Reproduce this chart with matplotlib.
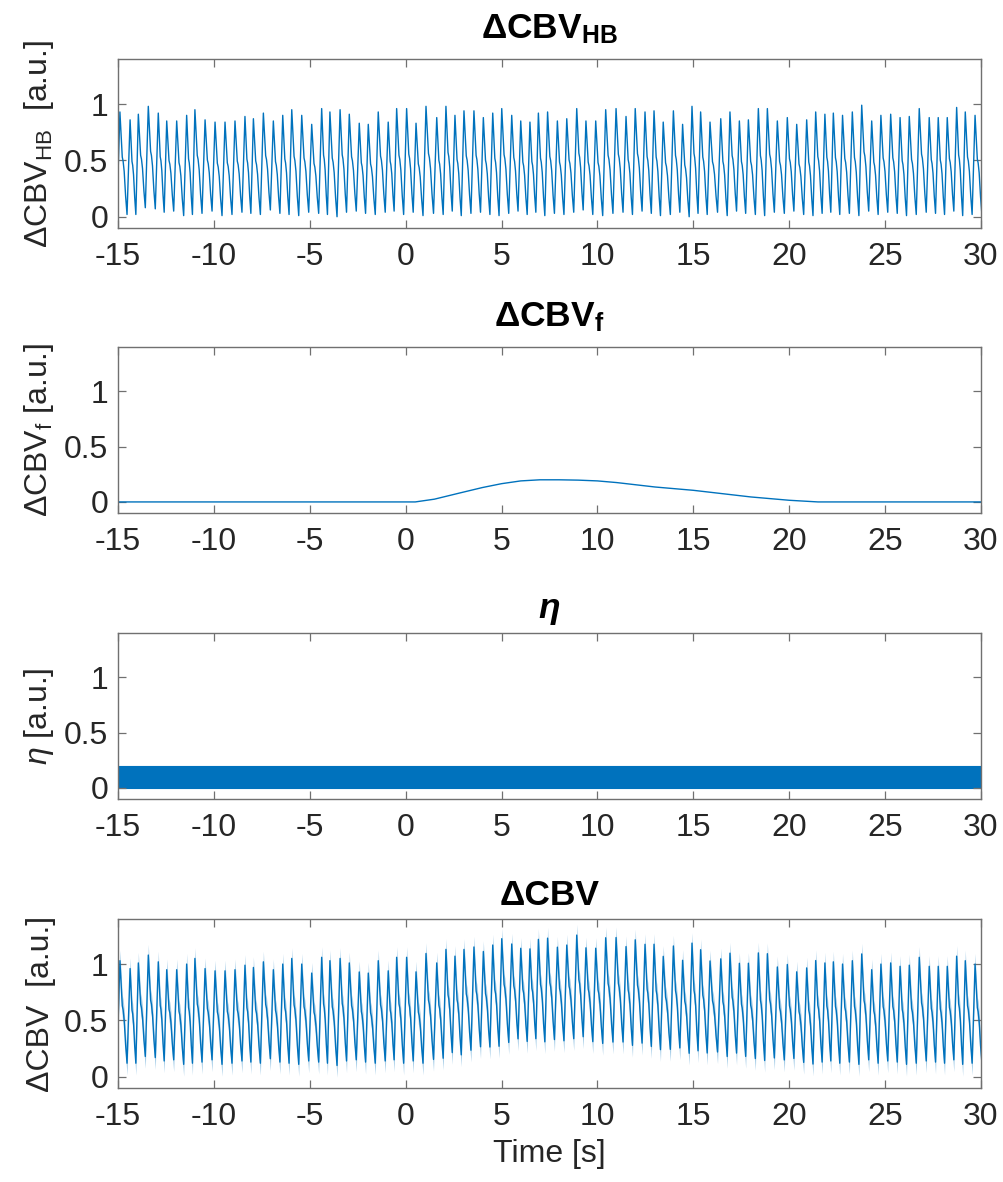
import numpy as np
import matplotlib
matplotlib.use("Agg")
import matplotlib.pyplot as plt

plt.rcParams["font.family"] = ["Liberation Sans", "DejaVu Sans"]
plt.rcParams["mathtext.fontset"] = "custom"
plt.rcParams["mathtext.rm"] = "Liberation Sans"
plt.rcParams["mathtext.bf"] = "Liberation Sans:bold"
plt.rcParams["mathtext.it"] = "Liberation Sans:italic"

LINE = "#0072BD"
TXT = "#262626"
SPINE = "#707070"

# ---- heartbeat component: time of each systolic peak [s], peak and preceding trough values
beat_peak_t = [-14.90, -14.37, -13.94, -13.42, -12.90, -12.46, -11.94, -11.42, -10.99, -10.46,
               -9.94, -9.42, -8.90, -8.38, -7.94, -7.42, -6.90, -6.41, -5.94, -5.42,
               -4.90, -4.38, -3.95, -3.42, -2.94, -2.42, -1.95, -1.43, -0.91, -0.47,
               0.05, 0.54, 1.06, 1.62, 2.10, 2.57, 3.04, 3.56, 4.05, 4.54,
               5.01, 5.53, 6.00, 6.48, 6.92, 7.40, 7.91, 8.40, 8.92, 9.40,
               9.91, 10.43, 10.97, 11.49, 11.97, 12.48, 12.95, 13.43, 13.96, 14.44,
               14.93, 15.38, 15.87, 16.43, 16.91, 17.40, 17.87, 18.39, 18.86, 19.38,
               19.90, 20.39, 20.91, 21.38, 21.86, 22.30, 22.78, 23.29, 23.78, 24.30,
               24.78, 25.29, 25.78, 26.26, 26.78, 27.30, 27.77, 28.24, 28.73, 29.18,
               29.69]
beat_peak = [0.93, 0.86, 0.91, 0.98, 0.92, 0.85, 0.85, 0.90, 0.95, 0.86,
             0.84, 0.84, 0.85, 0.89, 0.87, 0.92, 0.85, 0.90, 0.95, 0.90,
             0.82, 0.96, 0.93, 0.95, 0.91, 0.83, 0.82, 0.93, 0.84, 0.96,
             0.96, 0.83, 0.98, 0.88, 0.98, 0.90, 0.94, 0.94, 0.88, 0.92,
             0.96, 0.90, 0.85, 0.84, 0.92, 0.93, 0.85, 0.87, 0.96, 0.85,
             0.85, 0.95, 0.96, 0.89, 0.96, 0.93, 0.94, 0.84, 0.94, 0.82,
             0.98, 0.93, 0.84, 0.87, 0.93, 0.85, 0.86, 0.96, 0.96, 0.85,
             0.88, 0.82, 0.86, 0.93, 0.91, 0.92, 0.90, 0.93, 0.99, 0.85,
             0.90, 0.91, 0.88, 0.89, 0.96, 0.88, 0.88, 0.88, 0.97, 0.93,
             0.90]
beat_trough = [0.03, 0.02, 0.02, 0.08, 0.07, 0.04, 0.05, 0.01, 0.02, 0.03,
               0.05, 0.01, 0.02, 0.04, 0.03, 0.02, 0.06, 0.03, 0.02, 0.01,
               0.04, 0.03, 0.02, 0.00, 0.04, 0.05, 0.03, 0.02, 0.04, 0.05,
               0.02, 0.04, 0.01, 0.03, 0.02, 0.05, 0.01, 0.03, 0.04, 0.02,
               0.01, 0.03, 0.05, 0.02, 0.04, 0.01, 0.03, 0.02, 0.04, 0.06,
               0.02, 0.01, 0.03, 0.04, 0.02, 0.05, 0.03, 0.01, 0.02, 0.04,
               0.00, 0.03, 0.02, 0.04, 0.01, 0.05, 0.03, 0.02, 0.01, 0.04,
               0.03, 0.05, 0.02, 0.01, 0.03, 0.04, 0.02, 0.03, 0.01, 0.05,
               0.02, 0.04, 0.03, 0.01, 0.02, 0.04, 0.03, 0.02, 0.05, 0.01,
               0.02]
# pulse shape: share of the beat spent rising, and the falling limb (fraction of fall time, level)
rise_share = 0.3
fall_pos = [0.18, 0.33, 0.45, 0.60, 0.80]
fall_level = [0.76, 0.56, 0.52, 0.42, 0.18]

# ---- functional (slow) component
f_t = [-15.0, 0.5, 1.5, 2.8, 4.0, 5.0, 6.0, 7.0, 8.0, 9.0, 10.0, 11.0, 12.0, 13.0,
       14.0, 15.0, 16.0, 17.0, 18.0, 19.0, 20.0, 21.0, 21.5, 30.0]
f_v = [0.0, 0.0, 0.025, 0.08, 0.13, 0.165, 0.19, 0.20, 0.20, 0.197, 0.19, 0.175, 0.155, 0.135,
       0.12, 0.105, 0.085, 0.065, 0.045, 0.03, 0.015, 0.005, 0.0, 0.0]

# ---- noise band (lower / upper extent)
eta_t = [-15, 30]
eta_lo = [-0.005, -0.005]
eta_hi = [0.195, 0.195]
eta_mid = 0.1

x_ticks = [-15, -10, -5, 0, 5, 10, 15, 20, 25, 30]
y_ticks = [0, 0.5, 1]
y_ticklabels = ["0", "0.5", "1"]


def heartbeat_vertices():
    tp = np.asarray(beat_peak_t)
    pk = np.asarray(beat_peak)
    tr = np.asarray(beat_trough)
    n = len(tp)
    periods = np.diff(tp)
    periods = np.append(periods, periods[-1])
    trough_t = tp - rise_share * np.append(periods[0], periods[:-1])
    ts, vs = [], []
    for i in range(n):
        ts.append(trough_t[i]); vs.append(tr[i])
        ts.append(tp[i]); vs.append(pk[i])
        nxt_t = trough_t[i + 1] if i + 1 < n else tp[i] + (1 - rise_share) * periods[i]
        nxt_v = tr[i + 1] if i + 1 < n else tr[i]
        for p, lv in zip(fall_pos, fall_level):
            ts.append(tp[i] + p * (nxt_t - tp[i]))
            vs.append(nxt_v + lv * (pk[i] - nxt_v))
    ts.append(nxt_t); vs.append(nxt_v)
    return np.array(ts), np.array(vs)


hb_t, hb_v = heartbeat_vertices()
slow_at_hb = np.interp(hb_t, f_t, f_v)
total_v = hb_v + slow_at_hb + eta_mid
total_lo = hb_v + slow_at_hb + eta_lo[0]
total_hi = hb_v + slow_at_hb + eta_hi[0]

fig = plt.figure(figsize=(10.04, 11.82), dpi=100)
W = 1004.0
H = 1182.0
left = 118 / W
width = (981 - 118) / W
tops = [59, 347, 633, 919]
bottoms = [228, 513, 799, 1088]

axes = []
for top, bot in zip(tops, bottoms):
    ax = fig.add_axes([left, 1 - bot / H, width, (bot - top) / H])
    axes.append(ax)

FS = 23
TFS = 25.5
for ax in axes:
    ax.set_xlim(-15, 30)
    ax.set_ylim(-0.1, 1.4)
    ax.set_xticks(x_ticks)
    ax.set_xticklabels([str(v) for v in x_ticks])
    ax.set_yticks(y_ticks)
    ax.set_yticklabels(y_ticklabels)
    ax.tick_params(direction="in", length=5.5, width=0.9, color=SPINE,
                   labelsize=FS, labelcolor=TXT, top=True, right=True)
    ax.tick_params(axis="x", pad=10)
    ax.tick_params(axis="y", pad=7)
    for s in ax.spines.values():
        s.set_color(SPINE)
        s.set_linewidth(1.0)

ax1, ax2, ax3, ax4 = axes

ax1.plot(hb_t, hb_v, color=LINE, lw=1.0)
ax1.set_title("ΔCBV$_{\\mathbf{HB}}$", fontsize=TFS, fontweight="bold", color="black", pad=15)
ax1.set_ylabel("ΔCBV$_{\\mathrm{HB}}$  [a.u.]", fontsize=FS, color=TXT, labelpad=6)

ax2.plot(f_t, f_v, color=LINE, lw=1.0)
ax2.set_title("ΔCBV$_{\\mathbf{f}}$", fontsize=TFS, fontweight="bold", color="black", pad=15)
ax2.set_ylabel("ΔCBV$_{\\mathrm{f}}$ [a.u.]", fontsize=FS, color=TXT, labelpad=6)

ax3.fill_between(eta_t, eta_lo, eta_hi, color=LINE, lw=0.8, edgecolor=LINE)
ax3.set_title("η", fontsize=TFS, fontweight="bold", fontstyle="italic", color="black", pad=11)
ax3.set_ylabel("$\\it{\\eta}$ [a.u.]", fontsize=FS, color=TXT, labelpad=6)

ax4.fill_between(hb_t, total_lo, total_hi, color=LINE, alpha=0.35, lw=0)
ax4.plot(hb_t, total_v, color=LINE, lw=1.0)
ax4.set_title("ΔCBV", fontsize=TFS, fontweight="bold", color="black", pad=10)
ax4.set_ylabel("ΔCBV  [a.u.]", fontsize=FS, color=TXT, labelpad=6)
ax4.set_xlabel("Time [s]", fontsize=FS, color=TXT, labelpad=5)

fig.savefig("out.png", dpi=100)
